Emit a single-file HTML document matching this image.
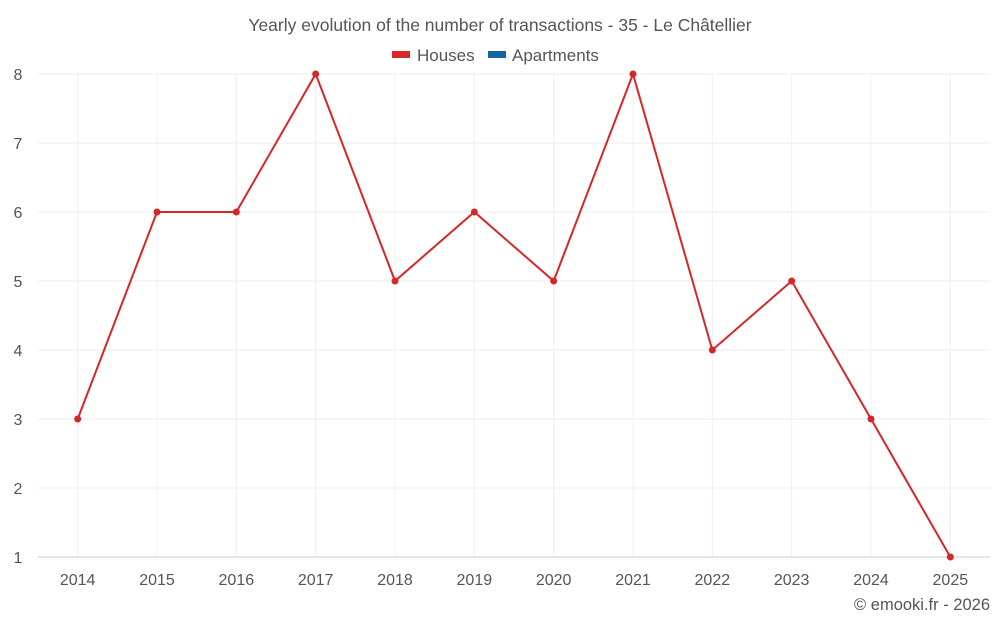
<!DOCTYPE html>
<html><head><meta charset="utf-8"><style>
body{margin:0;background:#fff;font-family:"Liberation Sans",sans-serif;}
svg text{font-family:"Liberation Sans",sans-serif;fill:#555;}
</style></head><body>
<svg id="c" width="1000" height="625">
<text x="500" y="31" text-anchor="middle" font-size="17.5">Yearly evolution of the number of transactions - 35 - Le Châtellier</text>
<g>
<g><rect x="392" y="51" width="18" height="7" fill="#d62728"/><text x="417" y="61" font-size="17">Houses</text></g>
<g><rect x="488" y="51" width="18" height="7" fill="#1565a0"/><text x="512" y="61" font-size="17">Apartments</text></g>
</g>
<g id="grid"></g>
<g id="axes"></g>
<g id="series"></g>
<text x="990" y="610" text-anchor="end" font-size="16.5">© emooki.fr - 2026</text>
</svg>
<script>
const years=["2014","2015","2016","2017","2018","2019","2020","2021","2022","2023","2024","2025"];
const houses=[3,6,6,8,5,6,5,8,4,5,3,1];
const yTicks=[1,2,3,4,5,6,7,8];
const L=38,R=990,T=74,B=557,yMin=1,yMax=8;
const bw=(R-L)/years.length;
const x=i=>L+bw*(i+0.5);
const y=v=>B-(v-yMin)/(yMax-yMin)*(B-T);
const ns="http://www.w3.org/2000/svg";
function mk(t,a,p){const e=document.createElementNS(ns,t);for(const k in a)e.setAttribute(k,a[k]);p.appendChild(e);return e;}
const g=document.getElementById('grid'),ax=document.getElementById('axes'),s=document.getElementById('series');
yTicks.forEach(v=>{
 const l=mk('line',{x1:L,x2:R,y1:y(v),y2:y(v),stroke:v==yMin?'#ccc':'#eee'},g);
 
 
 const t=mk('text',{x:18,y:y(v)+6,'text-anchor':'middle','font-size':16},ax);
 t.textContent=v;
 
 
});
years.forEach((yr,i)=>{
 const l=mk('line',{x1:x(i),x2:x(i),y1:T,y2:B,stroke:'#f0f0f0'},g);
 
 
 const t=mk('text',{x:x(i),y:585,'text-anchor':'middle','font-size':16},ax);
 t.textContent=yr;
 
 
});
const p=mk('polyline',{points:houses.map((v,i)=>x(i)+','+y(v)).join(' '),fill:'none',stroke:'#d62728','stroke-width':2},s);


houses.forEach((v,i)=>{
 const c=mk('circle',{cx:x(i),cy:y(v),r:3.5,fill:'#d62728'},s);
 
 
});
</script>
</body></html>
